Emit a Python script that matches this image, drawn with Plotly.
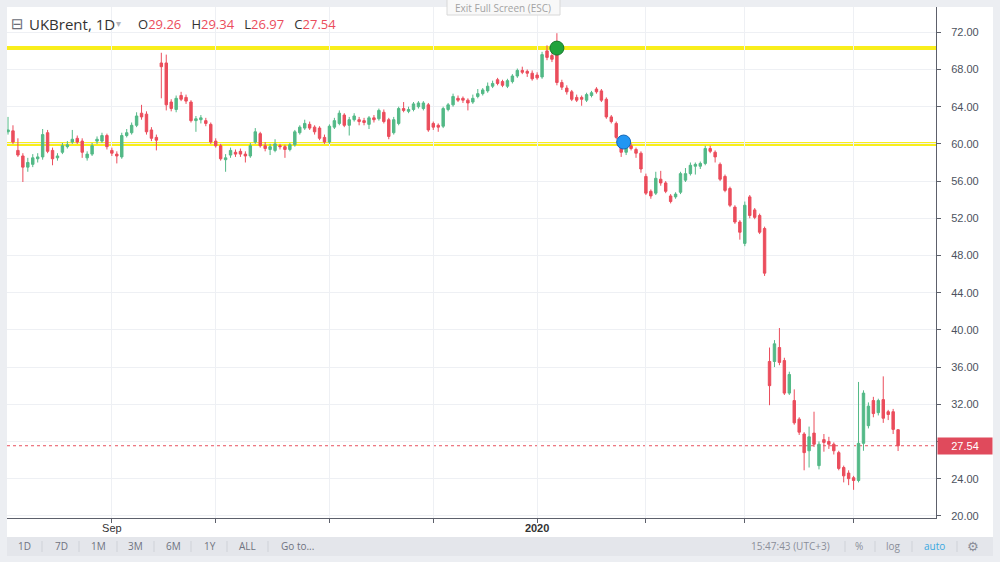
import plotly.graph_objects as go
import pandas as pd

# ---------------- data ----------------
first_day = "2019-08-02"
last_day = "2020-04-15"
holidays = ["2019-12-25", "2020-01-01", "2020-04-10"]

open_ = [
    # Aug
    61.3, 61.4, 59.3, 58.7, 57.5, 57.8, 58.4, 58.6, 61.2, 59.3, 58.5, 59.1, 59.7, 60.2, 60.6, 60.3, 58.5, 58.9, 60.3, 60.3, 60.9,
    # Sep
    59.3, 58.9, 58.6, 60.9, 61.2, 62.0, 63.3, 63.2, 61.5, 60.7, 68.7, 68.7, 64.5, 63.7, 65.2, 65.0, 64.5, 62.5, 62.6, 62.5, 62.1,
    # Oct
    60.3, 59.8, 58.3, 58.8, 59.1, 59.2, 58.9, 58.7, 60.2, 61.1, 59.8, 59.4, 59.3, 59.8, 59.7, 59.4, 59.9, 61.2, 61.7, 62.1, 61.8, 61.7, 60.7,
    # Nov
    60.2, 61.8, 62.2, 63.1, 62.0, 62.6, 62.6, 62.5, 62.1, 62.8, 62.7, 63.4, 62.6, 61.2, 62.2, 63.8, 63.5, 63.7, 64.0, 63.8, 64.2,
    # Dec
    62.2, 62.0, 61.9, 63.7, 64.2, 64.9, 64.9, 64.7, 64.5, 65.1, 65.4, 65.7, 66.2, 66.9, 66.7, 66.2, 66.7, 67.3, 67.9, 67.8, 67.6,
    # Jan
    67.4, 67.2, 70.0, 69.5, 70.4, 66.6, 66.0, 65.6, 65.0, 65.0, 64.7, 65.2, 65.9, 65.7, 64.8, 62.9, 62.2, 60.1, 59.1, 59.8, 59.4, 59.0,
    # Feb
    56.5, 54.9, 54.7, 56.2, 55.8, 54.4, 54.3, 54.8, 56.1, 56.8, 57.6, 57.6, 57.9, 59.5, 59.1, 57.8, 56.5, 55.2, 53.2, 51.6,
    # Mar
    49.3, 54.3, 52.9, 52.3, 50.9, 36.6, 36.6, 38.1, 36.7, 33.2, 32.4, 30.4, 28.8, 27.0, 28.9, 25.4, 28.2, 28.0, 27.7, 26.8, 25.2, 24.6,
    # Apr
    24.1, 23.8, 27.8, 29.7, 32.4, 31.1, 32.5, 31.2, 31.2, 29.26,
]
high = [
    62.9, 62.0, 60.6, 59.0, 58.5, 58.9, 59.0, 61.6, 61.5, 59.6, 59.0, 60.1, 60.3, 61.5, 60.9, 60.6, 59.2, 60.1, 60.8, 61.2, 61.1,
    59.6, 59.2, 61.2, 61.6, 62.3, 63.4, 64.2, 63.5, 61.8, 61.0, 69.8, 69.6, 64.8, 65.2, 65.6, 65.3, 64.7, 63.0, 63.1, 62.8, 62.3,
    60.6, 60.0, 58.9, 59.6, 59.4, 59.5, 59.2, 60.1, 61.7, 61.3, 60.2, 60.0, 60.5, 60.0, 59.9, 60.1, 61.5, 62.0, 62.6, 62.4, 62.0, 61.9, 61.0,
    62.1, 62.8, 63.6, 63.3, 62.9, 63.3, 62.9, 62.8, 63.0, 63.1, 63.8, 63.7, 62.8, 62.9, 64.0, 64.5, 64.0, 64.5, 64.6, 64.6, 64.4,
    62.4, 62.2, 64.0, 64.4, 65.4, 65.2, 65.1, 64.9, 65.3, 65.9, 66.0, 66.6, 66.8, 67.1, 66.9, 67.0, 67.5, 68.1, 68.3, 68.0, 67.9,
    67.7, 69.9, 70.6, 69.8, 71.9, 66.9, 66.3, 65.8, 65.3, 65.2, 65.5, 65.7, 66.1, 65.9, 65.0, 63.1, 62.4, 60.3, 60.2, 60.1, 59.6, 59.2,
    56.8, 55.1, 57.0, 57.1, 56.0, 54.6, 54.8, 57.0, 57.4, 58.0, 58.0, 58.1, 59.8, 59.8, 59.3, 58.0, 56.7, 55.4, 53.4, 51.8,
    53.8, 54.5, 53.1, 52.5, 51.1, 38.1, 38.9, 40.2, 37.0, 35.5, 33.6, 30.6, 29.0, 29.6, 31.2, 28.0, 28.8, 28.5, 27.9, 27.0, 25.4, 24.9,
    24.3, 34.4, 33.5, 32.2, 32.8, 32.6, 35.0, 31.4, 31.5, 29.34,
]
low = [
    61.0, 60.0, 58.6, 55.9, 57.0, 57.5, 58.0, 58.3, 59.0, 57.7, 58.2, 58.9, 59.5, 60.0, 60.0, 58.5, 58.2, 58.7, 60.0, 60.1, 59.4,
    58.7, 57.9, 58.4, 60.7, 61.0, 61.8, 62.6, 61.0, 60.3, 59.3, 64.9, 63.6, 63.5, 63.4, 64.6, 64.3, 62.3, 61.3, 62.2, 61.9, 60.0,
    59.6, 58.2, 57.0, 58.5, 58.6, 58.6, 58.0, 58.5, 60.0, 59.6, 59.2, 58.8, 59.1, 59.4, 58.5, 59.2, 59.7, 61.0, 61.5, 61.5, 61.0, 60.4, 60.0,
    60.0, 61.6, 62.0, 61.8, 60.9, 62.4, 62.0, 62.0, 61.6, 62.3, 62.5, 62.2, 60.5, 61.0, 62.0, 63.4, 63.3, 63.5, 63.8, 63.6, 61.3,
    61.5, 61.3, 61.7, 63.5, 64.0, 64.5, 64.4, 63.6, 64.3, 64.9, 65.2, 65.5, 66.0, 66.3, 66.1, 66.0, 66.5, 67.1, 67.5, 67.2, 66.8,
    66.9, 67.0, 69.0, 68.8, 66.3, 65.8, 65.3, 64.6, 64.5, 64.1, 64.5, 65.0, 65.4, 64.5, 62.7, 62.2, 60.5, 58.6, 58.8, 59.3, 58.5, 56.9,
    54.5, 54.1, 54.5, 55.5, 54.7, 53.6, 54.1, 54.6, 55.9, 56.6, 56.7, 57.3, 57.7, 59.0, 58.0, 56.0, 54.8, 53.2, 51.4, 49.7,
    49.0, 52.0, 51.9, 50.3, 45.8, 31.9, 36.0, 36.2, 33.0, 33.0, 29.8, 28.7, 24.9, 25.2, 27.4, 25.0, 26.9, 27.2, 26.6, 24.9, 23.6, 23.3,
    22.8, 23.6, 27.0, 29.4, 30.6, 30.8, 30.0, 30.3, 28.8, 26.97,
]
close = [
    61.5, 60.2, 58.8, 57.5, 58.0, 58.5, 58.6, 61.0, 59.2, 58.4, 58.7, 59.8, 59.9, 60.5, 60.2, 59.1, 58.9, 59.8, 60.5, 60.9, 59.7,
    59.0, 58.7, 60.9, 61.2, 62.0, 63.0, 62.9, 61.3, 60.6, 60.4, 68.3, 64.2, 63.8, 64.9, 64.8, 64.6, 62.5, 62.7, 62.8, 62.2, 60.2,
    59.8, 58.4, 58.5, 59.3, 58.9, 58.9, 58.7, 59.8, 61.3, 59.8, 59.5, 59.7, 60.0, 59.7, 59.4, 59.9, 61.3, 61.8, 62.2, 61.7, 61.3, 60.6, 60.2,
    61.9, 62.5, 63.3, 62.0, 62.6, 63.0, 62.4, 62.3, 62.8, 62.6, 63.6, 62.4, 60.8, 62.6, 63.8, 63.6, 63.7, 64.3, 64.4, 64.4, 61.5,
    61.8, 61.8, 63.8, 64.2, 65.1, 64.7, 64.7, 64.4, 64.9, 65.4, 65.8, 66.2, 66.5, 66.5, 66.3, 66.8, 67.3, 67.9, 67.7, 67.6, 67.0,
    67.1, 69.6, 69.3, 69.1, 66.6, 66.1, 65.6, 64.8, 64.7, 64.8, 65.3, 65.5, 65.6, 64.7, 62.9, 62.4, 60.7, 59.1, 59.9, 59.5, 59.0, 57.3,
    54.7, 54.4, 56.3, 55.8, 54.9, 53.8, 54.6, 56.8, 56.8, 57.7, 57.8, 57.9, 59.5, 59.2, 58.6, 56.2, 55.0, 53.4, 51.6, 50.5,
    53.4, 52.3, 52.1, 50.5, 46.1, 34.0, 38.5, 36.5, 33.2, 35.2, 30.0, 29.0, 26.8, 28.5, 27.7, 27.7, 27.9, 27.7, 27.0, 25.1, 24.3, 24.0,
    23.8, 27.8, 33.2, 31.8, 31.0, 32.4, 30.5, 30.9, 29.3, 27.54,
]

levels = [70.3, 60.0]                                  # yellow horizontal levels
marker_dates = ["2020-01-08", "2020-01-27 12:00"]
marker_values = [70.3, 60.2]
marker_colors = ["#20a33c", "#2196f3"]
marker_edges = ["#16792b", "#1769b8"]

y_ticks = list(range(20, 73, 4))
y_labels = ["" if v == 28 else f"{v:.2f}" for v in y_ticks]   # 28.00 is covered by the last-price tag
month_ticks = ["2019-09-02", "2019-10-01", "2019-11-01", "2019-12-02",
               "2020-01-02", "2020-02-03", "2020-03-02", "2020-04-01"]
month_labels = ["Sep", "", "", "", "<b>2020</b>", "", "", ""]

symbol = "UKBrent, 1D"
toolbar_left = ["1D", "7D", "1M", "3M", "6M", "1Y", "ALL", "Go to..."]
toolbar_right = ["15:47:43 (UTC+3)", "%", "log", "auto", "\u2699"]

dates = [d for d in pd.bdate_range(first_day, last_day) if d.strftime("%Y-%m-%d") not in holidays]
assert len(dates) == len(open_) == len(high) == len(low) == len(close)

# ---------------- layout helpers ----------------
W, H = 1000, 562
ML, MR, MT, MB = 7, 64, 7, 44
PW, PH = W - ML - MR, H - MT - MB
PAPER = "#eceef2"


def px(x):
    return (x - ML) / PW


def py(y):
    return (H - MB - y) / PH


UP, DOWN = "#53b987", "#eb4d5c"
GRID = "#eef0f4"
AXIS = "#5d606b"
TXT = "#4c525e"
FONT = "Liberation Sans, Arial, sans-serif"

fig = go.Figure()
fig.add_trace(go.Candlestick(
    x=dates, open=open_, high=high, low=low, close=close,
    increasing=dict(line=dict(color=UP, width=1), fillcolor=UP),
    decreasing=dict(line=dict(color=DOWN, width=1), fillcolor=DOWN),
    whiskerwidth=0, showlegend=False, hoverinfo="skip",
))
fig.add_trace(go.Scatter(
    x=marker_dates, y=marker_values, mode="markers", showlegend=False, hoverinfo="skip",
    marker=dict(size=14, color=marker_colors, line=dict(color=marker_edges, width=1)),
))

shapes = []
shapes.append(dict(type="rect", xref="paper", yref="paper", x0=px(936), x1=px(993), y0=py(537), y1=py(7),
                   fillcolor="white", line=dict(width=0), layer="below"))
shapes.append(dict(type="rect", xref="paper", yref="paper", x0=px(7), x1=px(993), y0=py(537), y1=py(518),
                   fillcolor="white", line=dict(width=0), layer="below"))
shapes.append(dict(type="rect", xref="paper", yref="paper", x0=px(7), x1=px(993), y0=py(556), y1=py(537),
                   fillcolor="#e4e6eb", line=dict(width=0), layer="below"))
for sx in [42, 79, 117, 154, 191, 227, 268, 845, 875, 912, 957]:
    shapes.append(dict(type="line", xref="paper", yref="paper", x0=px(sx), x1=px(sx), y0=py(552), y1=py(541),
                       line=dict(color="#cfd2d8", width=1)))
shapes.append(dict(type="rect", xref="paper", yref="paper", x0=px(447), x1=px(560), y0=py(15), y1=py(-1),
                   fillcolor="#f8f8f8", line=dict(color="#d8d8d8", width=1)))
for lv in levels:
    shapes.append(dict(type="line", xref="paper", yref="y", x0=0, x1=1, y0=lv, y1=lv,
                       line=dict(color="#f9ee1c", width=4), layer="below"))
shapes.append(dict(type="line", xref="paper", yref="y", x0=0, x1=1, y0=close[-1], y1=close[-1],
                   line=dict(color="#e8505f", width=1, dash="dot"), layer="below"))

ann = []
ann.append(dict(xref="paper", yref="paper", x=px(9), y=py(24), xanchor="left", yanchor="middle", showarrow=False,
                text="\u229f", font=dict(family="DejaVu Sans", size=15, color="#6a6d78")))
ann.append(dict(xref="paper", yref="paper", x=px(27), y=py(24), xanchor="left", yanchor="middle", showarrow=False,
                text=symbol, font=dict(family="Open Sans", size=15, color="#333")))
ann.append(dict(xref="paper", yref="paper", x=px(114), y=py(23), xanchor="left", yanchor="middle", showarrow=False,
                text="\u25be", font=dict(family="DejaVu Sans", size=10, color="#b2b5be")))
ohlc_txt = "   ".join(
    f"{k}<span style='color:{DOWN}'>{v:.2f}</span>"
    for k, v in zip("OHLC", [open_[-1], high[-1], low[-1], close[-1]])
)
ann.append(dict(xref="paper", yref="paper", x=px(136), y=py(24), xanchor="left", yanchor="middle", showarrow=False,
                text=ohlc_txt, font=dict(family="Open Sans", size=13, color="#333")))
ann.append(dict(xref="paper", yref="paper", x=px(503), y=py(8), xanchor="center", yanchor="middle", showarrow=False,
                text="Exit Full Screen (ESC)", font=dict(family="Open Sans", size=10, color="#a3a3a3")))
ann.append(dict(xref="paper", yref="y", x=px(937), y=close[-1], xanchor="left", yanchor="middle", showarrow=False,
                text=f"{close[-1]:.2f}", bgcolor="#e04a5c", width=50, height=12, borderpad=2,
                font=dict(family=FONT, size=11, color="white")))
for t, tx in zip(toolbar_left, [24, 61, 98, 135, 173, 210, 247, 297]):
    ann.append(dict(xref="paper", yref="paper", x=px(tx), y=py(546), xanchor="center", yanchor="middle",
                    showarrow=False, text=t, font=dict(family="Open Sans", size=10, color="#6f7380")))
for t, tx in zip(toolbar_right, [790, 859, 893, 934, 973]):
    col = "#3aa8e0" if t == "auto" else "#8a8e99"
    sz = 13 if t == "\u2699" else 10
    fam = "DejaVu Sans" if t == "\u2699" else "Open Sans"
    ann.append(dict(xref="paper", yref="paper", x=px(tx), y=py(546), xanchor="center", yanchor="middle",
                    showarrow=False, text=t, font=dict(family=fam, size=sz, color=col)))

fig.update_layout(
    width=W, height=H,
    margin=dict(l=ML, r=MR, t=MT, b=MB, pad=0, autoexpand=False),
    paper_bgcolor=PAPER, plot_bgcolor="white",
    shapes=shapes, annotations=ann,
    font=dict(family=FONT, size=11, color=TXT),
    showlegend=False,
    xaxis=dict(
        type="date",
        range=["2019-08-01 19:00", "2020-04-24 16:00"],
        rangebreaks=[dict(bounds=["sat", "mon"]), dict(values=holidays)],
        rangeslider=dict(visible=False),
        tickvals=month_ticks, ticktext=month_labels,
        showgrid=True, gridcolor=GRID, gridwidth=1,
        ticks="outside", ticklen=4, tickcolor=AXIS,
        showline=True, linecolor=AXIS, linewidth=1,
        tickfont=dict(family=FONT, size=11, color="#333"),
        ticklabelstandoff=-4,
        zeroline=False, fixedrange=True,
    ),
    yaxis=dict(
        side="right", range=[19.77, 74.72],
        tickvals=y_ticks, ticktext=y_labels,
        showgrid=True, gridcolor=GRID, gridwidth=1,
        ticks="outside", ticklen=4, tickcolor=AXIS,
        showline=True, linecolor=AXIS, linewidth=1,
        tickfont=dict(family=FONT, size=11, color=TXT),
        ticklabelstandoff=8,
        zeroline=False, fixedrange=True,
    ),
)

fig.write_html(
    "out.html",
    config={"displayModeBar": False},
    post_script=f"document.body.style.margin='0';document.body.style.overflow='hidden';"
                f"document.body.style.background='{PAPER}';",
)
